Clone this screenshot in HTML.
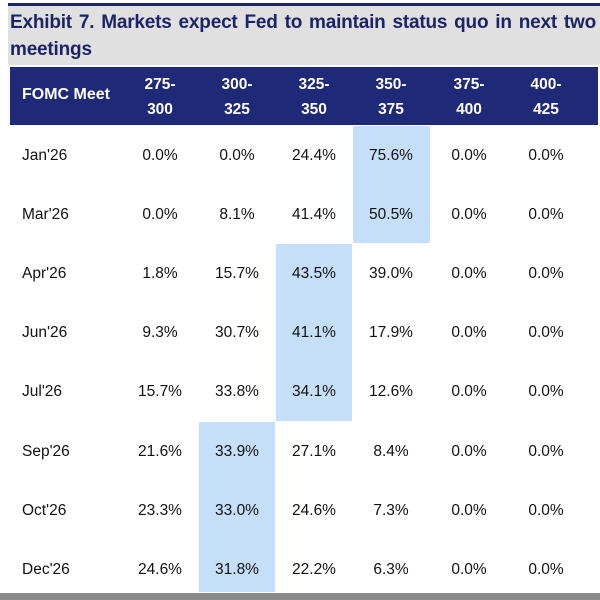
<!DOCTYPE html>
<html><head><style>
body{margin:0;width:600px;height:600px;background:#fff;position:relative;overflow:hidden;font-family:"Liberation Sans",sans-serif}
.a{position:absolute}
.t{position:absolute;left:10px;width:586px;font-weight:bold;color:#1c2467;font-size:19px;line-height:27px;text-align:justify;text-align-last:left;letter-spacing:-0.2px}
.h{position:absolute;top:67px;left:10px;width:588px;height:58px;background:#1e2a78}
.hc{position:absolute;color:#fff;font-weight:bold;font-size:15.5px;line-height:25px;text-align:center;width:76px;top:72px}
.c{position:absolute;font-size:15.5px;color:#111;width:76px;text-align:center}
.l{position:absolute;font-size:15.5px;color:#111;left:22px}
.hl{position:absolute;background:#c5dff8}
</style></head><body>
<div class="a" style="left:8px;top:3px;width:592px;height:3px;background:#1c2467"></div>
<div class="a" style="left:8px;top:6px;width:592px;height:59px;background:#e0e0e0"></div>
<div class="t" style="top:9px">Exhibit 7. Markets expect Fed to maintain status quo in next two meetings</div>
<div class="h"></div>
<div class="a" style="left:22px;top:86px;color:#fff;font-weight:bold;font-size:16px">FOMC Meet</div>
<div class="hc" style="left:122px">275-<br>300</div>
<div class="hc" style="left:199px">300-<br>325</div>
<div class="hc" style="left:276px">325-<br>350</div>
<div class="hc" style="left:353px">350-<br>375</div>
<div class="hc" style="left:431px">375-<br>400</div>
<div class="hc" style="left:508px">400-<br>425</div>
<div class="hl" style="left:353px;top:126px;width:77px;height:117px"></div>
<div class="hl" style="left:276px;top:244px;width:76px;height:177px"></div>
<div class="hl" style="left:199px;top:422px;width:76px;height:170px"></div>
<div class="a" style="left:0;top:593px;width:600px;height:7px;background:#8a8a8a"></div>
<div id="rows"></div>
<script>
var d=[["Jan'26","0.0%","0.0%","24.4%","75.6%","0.0%","0.0%"],
["Mar'26","0.0%","8.1%","41.4%","50.5%","0.0%","0.0%"],
["Apr'26","1.8%","15.7%","43.5%","39.0%","0.0%","0.0%"],
["Jun'26","9.3%","30.7%","41.1%","17.9%","0.0%","0.0%"],
["Jul'26","15.7%","33.8%","34.1%","12.6%","0.0%","0.0%"],
["Sep'26","21.6%","33.9%","27.1%","8.4%","0.0%","0.0%"],
["Oct'26","23.3%","33.0%","24.6%","7.3%","0.0%","0.0%"],
["Dec'26","24.6%","31.8%","22.2%","6.3%","0.0%","0.0%"]];
var xs=[122,199,276,353,431,508],h="";
d.forEach(function(r,i){var y=147+i*59.1;
h+='<div class="l" style="top:'+y+'px">'+r[0]+'</div>';
for(var j=1;j<7;j++)h+='<div class="c" style="left:'+xs[j-1]+'px;top:'+y+'px">'+r[j]+'</div>';});
document.getElementById('rows').innerHTML=h;
</script>
</body></html>
